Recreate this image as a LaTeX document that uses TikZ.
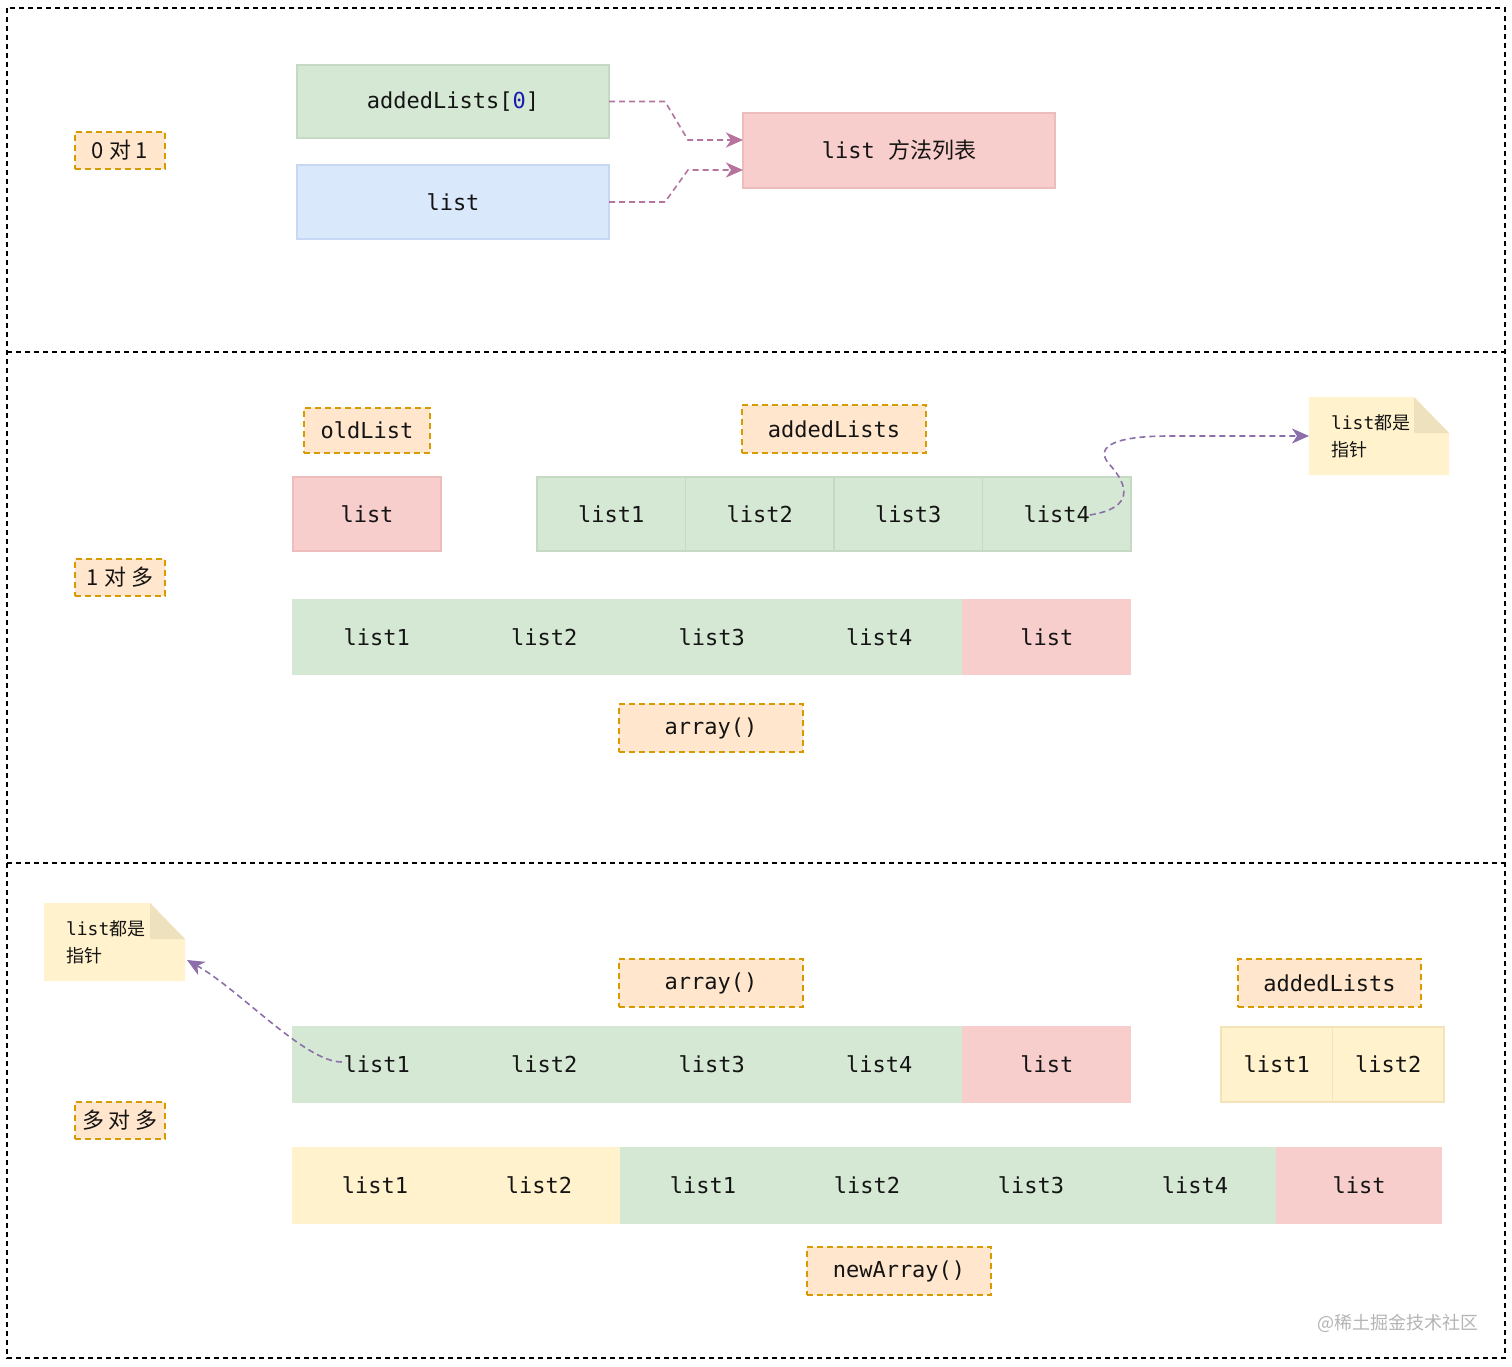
\documentclass[tikz,border=0pt]{standalone}
\usepackage{fontspec}
\setmonofont{DejaVu Sans Mono}
\newfontfamily\cjkfont{Noto Sans CJK SC}
\usepackage{tikz}
\usetikzlibrary{calc, arrows.meta, positioning}
\definecolor{cgreen}{HTML}{D5E8D4}
\definecolor{cgreenline}{HTML}{C4DAC2}
\definecolor{cblue}{HTML}{DAE8FC}
\definecolor{cblueline}{HTML}{C6D8F3}
\definecolor{cred}{HTML}{F8CECC}
\definecolor{credline}{HTML}{EDBDBC}
\definecolor{cyellow}{HTML}{FFF2CC}
\definecolor{cyellowline}{HTML}{F2E3B8}
\definecolor{ctag}{HTML}{FFE6CC}
\definecolor{ctagline}{HTML}{D79B00}
\definecolor{cfold}{HTML}{EEE2BE}
\definecolor{cpink}{HTML}{B5739D}
\definecolor{cpurple}{HTML}{8C6FAA}
\definecolor{ctext}{HTML}{141414}
\definecolor{czero}{HTML}{1A1AB0}
\definecolor{cmark}{HTML}{B4B4B4}
\newcommand{\celltext}{\ttfamily\fontsize{22}{26}\selectfont}
\newcommand{\tagtext}{\cjkfont\fontsize{22}{26}\selectfont}
\newcommand{\notetext}{\ttfamily\fontsize{18}{27}\selectfont}
\tikzset{
    cellnode/.style = {draw, rectangle, inner sep=0pt, outer sep=0pt, minimum height=74pt,
      line width=1.2pt, font=\celltext, text=ctext},
    greencell/.style = {cellnode, fill=cgreen, draw=cgreenline},
    flatgreen/.style = {cellnode, fill=cgreen, draw=cgreen},
    bluecell/.style = {cellnode, fill=cblue, draw=cblueline},
    redcell/.style = {cellnode, fill=cred, draw=credline},
    flatred/.style = {cellnode, fill=cred, draw=cred},
    yellowcell/.style = {cellnode, fill=cyellow, draw=cyellowline},
    flatyellow/.style = {cellnode, fill=cyellow, draw=cyellow},
    tagnode/.style = {draw=ctagline, fill=ctag, rectangle, dash pattern=on 6pt off 4pt,
      line width=1.4pt, inner sep=0pt, outer sep=0pt, minimum height=48pt, minimum width=184pt,
      font=\celltext, text=ctext},
    sidetag/.style = {tagnode, minimum width=90pt, minimum height=37pt, font=\tagtext},
    notenode/.style = {rectangle, inner xsep=22pt, inner ysep=0pt, outer sep=0pt, text width=96pt,
      align=left, minimum height=78pt, font=\notetext, text=ctext,
      path picture={
        \fill[cyellow] (path picture bounding box.north west)
          -- ([xshift=-35pt]path picture bounding box.north east)
          -- ([yshift=-36pt]path picture bounding box.north east)
          -- (path picture bounding box.south east)
          -- (path picture bounding box.south west) -- cycle;
        \fill[cfold] ([xshift=-35pt]path picture bounding box.north east)
          -- ([yshift=-36pt]path picture bounding box.north east)
          -- ([xshift=-35pt, yshift=-36pt]path picture bounding box.north east) -- cycle;
      }},
    pinkarrow/.style = {draw=cpink, line width=1.6pt, dash pattern=on 6pt off 4pt,
      -{Stealth[length=17pt, width=15pt, inset=5pt]}},
    purplearrow/.style = {draw=cpurple, line width=1.6pt, dash pattern=on 6pt off 4pt,
      -{Stealth[length=17pt, width=15pt, inset=5pt]}},
    framestyle/.style = {black, line width=1.4pt, dash pattern=on 5pt off 4pt}
}

\begin{document}
\begin{tikzpicture}[x=1pt, y=-1pt]
    \useasboundingbox (0,0) rectangle (1512,1367);
    \draw [framestyle] (7,8) rectangle (1505,1358);
    \draw [framestyle] (7,352) -- (1505,352);
    \draw [framestyle] (7,863) -- (1505,863);

    % 0 to 1
    \node [name=tag01, sidetag] at (120,150.5) {0 对 1};
    \node [name=added0, greencell, minimum width=312pt, minimum height=73pt] at (453,101.5)
        {addedLists[\textcolor{czero}{0}]};
    \node [name=listb, bluecell, minimum width=312pt, below=27pt of added0] {list};
    \node [name=listfn, redcell, minimum width=312pt, minimum height=75pt] at (899,150.5)
        {list {\cjkfont 方法列表}};
    \draw [pinkarrow] (added0.east) -- ++(56,0) -- ($(listfn.west)+(-55,-10.5)$) -- ($(listfn.west)+(0,-10.5)$);
    \draw [pinkarrow] (listb.east) -- ++(56,0) -- ($(listfn.west)+(-55,19.5)$) -- ($(listfn.west)+(0,19.5)$);

    % 1 to many
    \node [name=tag1n, sidetag] at (120,577.5) {1 对 多};
    \node [name=oldlist, redcell, minimum width=148pt] at (367,514) {list};
    \node [name=oldtag, tagnode, minimum width=126pt, minimum height=45pt, above=24pt of oldlist] {oldList};
    \node [name=add1, greencell, minimum width=148.5pt] at (611.25,514) {list1};
    \node [name=add2, greencell, minimum width=148.5pt, right=0pt of add1] {list2};
    \node [name=add3, greencell, minimum width=148.5pt, right=0pt of add2] {list3};
    \node [name=add4, greencell, minimum width=148.5pt, right=0pt of add3] {list4};
    \node [name=addtag, tagnode] at (834,429) {addedLists};
    \node [name=note1, notenode] at (1379,436) {list{\cjkfont 都是}\\{\cjkfont 指针}};
    \draw [purplearrow] ($(add4.center)+(33,1)$) .. controls (1135,508) and (1128,485) .. (1110,465)
        .. controls (1096,450) and (1105,436) .. (1170,436) -- (note1.west);

    \node [name=row1, flatgreen, minimum width=167.5pt] at (376.75,637) {list1};
    \node [name=row2, flatgreen, minimum width=167.5pt, right=0pt of row1] {list2};
    \node [name=row3, flatgreen, minimum width=167.5pt, right=0pt of row2] {list3};
    \node [name=row4, flatgreen, minimum width=167.5pt, right=0pt of row3] {list4};
    \node [name=row5, flatred, minimum width=167.5pt, right=0pt of row4] {list};
    \node [name=arrtag1, tagnode] at (711,728) {array()};

    % many to many
    \node [name=tagnn, sidetag] at (120,1120.5) {多 对 多};
    \node [name=note2, notenode, text width=97pt] at (114.5,942) {list{\cjkfont 都是}\\{\cjkfont 指针}};
    \node [name=arrtag2, tagnode] at (711,983) {array()};
    \node [name=addtag2, tagnode, minimum width=183pt] at (1329.5,983) {addedLists};

    \node [name=mid1, flatgreen, minimum width=167.5pt, minimum height=75pt] at (376.75,1064.5) {list1};
    \node [name=mid2, flatgreen, minimum width=167.5pt, minimum height=75pt, right=0pt of mid1] {list2};
    \node [name=mid3, flatgreen, minimum width=167.5pt, minimum height=75pt, right=0pt of mid2] {list3};
    \node [name=mid4, flatgreen, minimum width=167.5pt, minimum height=75pt, right=0pt of mid3] {list4};
    \node [name=mid5, flatred, minimum width=167.5pt, minimum height=75pt, right=0pt of mid4] {list};
    \node [name=extra1, yellowcell, minimum width=111.5pt, minimum height=75pt] at (1276.75,1064.5) {list1};
    \node [name=extra2, yellowcell, minimum width=111.5pt, minimum height=75pt, right=0pt of extra1] {list2};
    \draw [purplearrow] ($(mid1.center)+(-35,-2.5)$) .. controls (305,1062) and (240,990) .. ($(note2.east)+(2,18)$);

    \node [name=new1, flatyellow, minimum width=164pt, minimum height=75pt] at (375,1185.5) {list1};
    \node [name=new2, flatyellow, minimum width=164pt, minimum height=75pt, right=0pt of new1] {list2};
    \node [name=new3, flatgreen, minimum width=164pt, minimum height=75pt, right=0pt of new2] {list1};
    \node [name=new4, flatgreen, minimum width=164pt, minimum height=75pt, right=0pt of new3] {list2};
    \node [name=new5, flatgreen, minimum width=164pt, minimum height=75pt, right=0pt of new4] {list3};
    \node [name=new6, flatgreen, minimum width=164pt, minimum height=75pt, right=0pt of new5] {list4};
    \node [name=new7, flatred, minimum width=164pt, minimum height=75pt, right=0pt of new6] {list};
    \node [name=newtag, tagnode] at (899,1271) {newArray()};

    \node [name=mark, font=\cjkfont\fontsize{18}{20}\selectfont, text=cmark] at (1398,1323) {@稀土掘金技术社区};
\end{tikzpicture}
\end{document}
